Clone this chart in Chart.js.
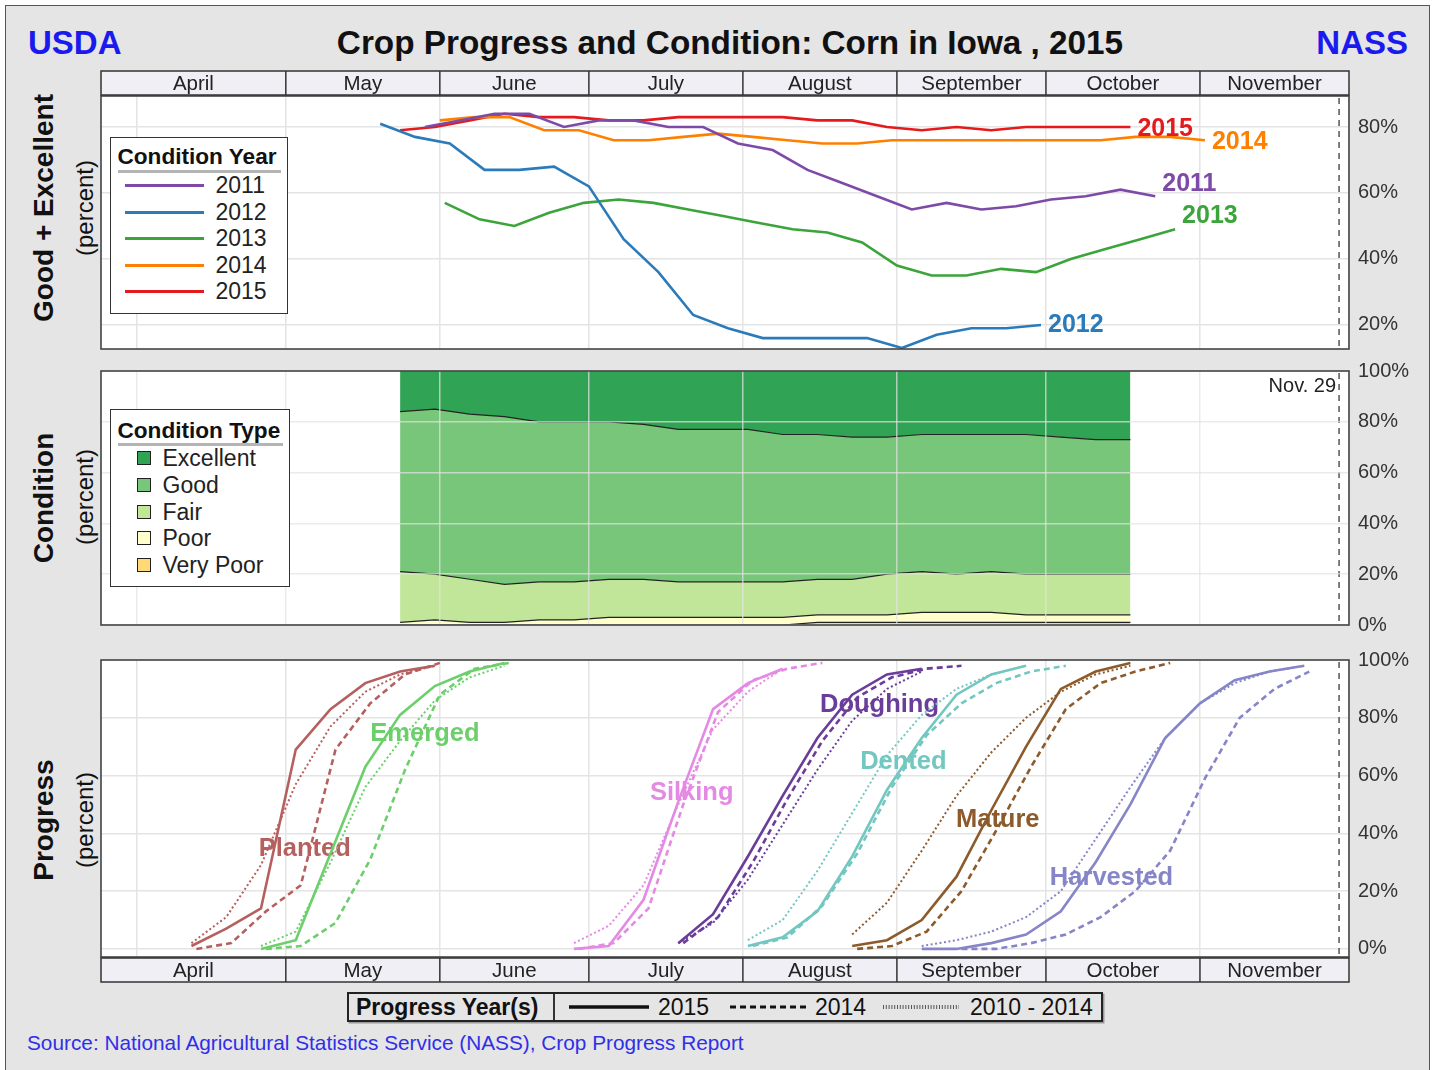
<!DOCTYPE html>
<html lang="en">
<head>
<meta charset="utf-8">
<title>Crop Progress and Condition: Corn in Iowa, 2015</title>
<script src="https://cdn.jsdelivr.net/npm/chart.js@4.4.1/dist/chart.umd.min.js"></script>
<style>
  body { margin: 0; background: #fff; font-family: "Liberation Sans", Arial, Helvetica, sans-serif; color: #111; }
  #bingkai { position: absolute; left: 5px; top: 5px; width: 1423px; height: 1070px; background: #e5e5e5; border: 1.5px solid #555; border-bottom: none; }
  .teks { position: absolute; white-space: nowrap; line-height: 1; }
  .putar { position: absolute; white-space: nowrap; line-height: 1; transform: translate(-50%, -50%) rotate(-90deg); }
  canvas { position: absolute; left: 0; }
  .legenda { position: absolute; background: #fff; border: 1.5px solid #333; z-index: 2; }
  .judul-leg { font-weight: bold; font-size: 22.6px; }
  .isi-leg { font-size: 23px; color: #222; }
  .garis-bawah { position: absolute; height: 3px; background: #b5b5b5; }
  .garis-leg { position: absolute; left: 14px; width: 79px; height: 3px; }
  .kotak-leg { position: absolute; left: 26px; width: 12px; height: 12px; border: 1.5px solid #222; }
</style>
</head>
<body>
<div id="bingkai"></div>

<div class="teks" style="left:28px;top:25.5px;font-size:33px;font-weight:bold;color:#1a1aee;">USDA</div>
<div class="teks" style="left:730px;top:25.5px;font-size:33.3px;font-weight:bold;transform:translateX(-50%);">Crop Progress and Condition: Corn in Iowa , 2015</div>
<div class="teks" style="left:1408px;top:25.5px;font-size:33px;font-weight:bold;color:#1a1aee;transform:translateX(-100%);">NASS</div>

<div class="putar" style="left:44px;top:208px;font-size:28px;font-weight:bold;">Good + Excellent</div>
<div class="putar" style="left:85px;top:208px;font-size:24px;">(percent)</div>
<div class="putar" style="left:44px;top:498px;font-size:28px;font-weight:bold;">Condition</div>
<div class="putar" style="left:85px;top:497px;font-size:24px;">(percent)</div>
<div class="putar" style="left:44px;top:820px;font-size:28px;font-weight:bold;">Progress</div>
<div class="putar" style="left:85px;top:820px;font-size:24px;">(percent)</div>

<canvas id="chartTahun" width="1435" height="313" style="top:60px"></canvas>
<canvas id="chartTipe" width="1435" height="302" style="top:347px"></canvas>
<canvas id="chartProgres" width="1435" height="356" style="top:636px"></canvas>

<div class="legenda" style="left:110px;top:137px;width:176px;height:175px;">
  <div class="teks judul-leg" style="left:6.5px;top:8px;">Condition Year</div>
  <div class="garis-bawah" style="left:6.5px;top:32px;width:163px;"></div>
  <div id="legTahun"></div>
</div>

<div class="legenda" style="left:110px;top:409px;width:178px;height:176px;">
  <div class="teks judul-leg" style="left:6.5px;top:10px;">Condition Type</div>
  <div class="garis-bawah" style="left:6.5px;top:33px;width:165px;"></div>
  <div id="legTipe"></div>
</div>

<div style="position:absolute;left:347px;top:992px;width:752px;height:26px;border:2px solid #222;box-shadow:1.5px 1.5px 0 #999;z-index:2;">
  <div class="teks" style="left:7px;top:2px;font-size:23px;font-weight:bold;">Progress Year(s)</div>
  <div style="position:absolute;left:204px;top:0;width:1.5px;height:26px;background:#333;"></div>
  <svg style="position:absolute;left:220px;top:7px" width="80" height="12"><line x1="0" y1="6" x2="80" y2="6" stroke="#111" stroke-width="3.5"/></svg>
  <div class="teks" style="left:309px;top:2px;font-size:23px;">2015</div>
  <svg style="position:absolute;left:381px;top:7px" width="76" height="12"><line x1="0" y1="6" x2="76" y2="6" stroke="#111" stroke-width="3" stroke-dasharray="6 4"/></svg>
  <div class="teks" style="left:466px;top:2px;font-size:23px;">2014</div>
  <svg style="position:absolute;left:534px;top:7px" width="76" height="12"><line x1="0" y1="6" x2="76" y2="6" stroke="#555" stroke-width="4" stroke-dasharray="1 1.8"/></svg>
  <div class="teks" style="left:621px;top:2px;font-size:23px;">2010 - 2014</div>
</div>

<div class="teks" style="left:27px;top:1033px;font-size:20.8px;color:#2f2fe8;">Source: National Agricultural Statistics Service (NASS), Crop Progress Report</div>

<script>
const FONT = "'Liberation Sans', Arial, Helvetica, sans-serif";
Chart.defaults.font.family = FONT;
Chart.defaults.color = "#333";

// Sumbu waktu (hari ke-n dalam tahun)
const sumbuMin = 83.8;
const sumbuMax = 335;
const namaBulan = ["April", "May", "June", "July", "August", "September", "October", "November"];
const awalBulan = ["04-01", "05-01", "06-01", "07-01", "08-01", "09-01", "10-01", "11-01", "12-01"];
const tanggalLaporan = "11-29";
const tickKondisi = [20, 40, 60, 80];
const tickPersen = [0, 20, 40, 60, 80, 100];

// Kondisi Good + Excellent per tahun (mingguan)
const tahunKondisi = ["2011", "2012", "2013", "2014", "2015"];
const warnaTahun = ["#7e4aa8", "#2b7bba", "#3ba43a", "#ff8000", "#e41a1c"];
const mulaiKondisi = ["05-29", "05-20", "06-02", "06-01", "05-24"];
const kondisi2011 = [80, 82, 84, 84, 80, 82, 82, 80, 80, 75, 73, 67, 63, 59, 55, 57, 55, 56, 58, 59, 61, 59];
const kondisi2012 = [81, 77, 75, 67, 67, 68, 62, 46, 36, 23, 19, 16, 16, 16, 16, 13, 17, 19, 19, 20];
const kondisi2013 = [57, 52, 50, 54, 57, 58, 57, 55, 53, 51, 49, 48, 45, 38, 35, 35, 37, 36, 40, 43, 46, 49];
const kondisi2014 = [82, 83, 83, 79, 79, 76, 76, 77, 78, 77, 76, 75, 75, 76, 76, 76, 76, 76, 76, 76, 77, 77, 76];
const kondisi2015 = [79, 80, 82, 84, 83, 83, 82, 82, 83, 83, 83, 83, 82, 82, 80, 79, 80, 79, 80, 80, 80, 80];

// Tipe kondisi 2015
const mulaiTipe = "05-24";
const tipeKondisi = ["Excellent", "Good", "Fair", "Poor", "Very Poor"];
const warnaTipe = ["#31a354", "#78c679", "#c2e699", "#ffffcc", "#fed976"];
const sangatBaik = [16, 15, 17, 18, 20, 20, 20, 21, 23, 23, 23, 25, 25, 26, 26, 25, 25, 25, 25, 26, 27, 27];
const baik = [63, 65, 65, 66, 63, 63, 62, 61, 60, 60, 60, 58, 57, 56, 54, 54, 55, 54, 55, 54, 53, 53];
const sedang = [20, 18, 17, 15, 15, 15, 15, 15, 14, 14, 14, 14, 14, 14, 16, 16, 15, 16, 16, 16, 16, 16];
const buruk = [1, 2, 1, 1, 2, 2, 3, 3, 3, 3, 3, 3, 3, 3, 3, 4, 4, 4, 3, 3, 3, 3];
const sangatBuruk = [0, 0, 0, 0, 0, 0, 0, 0, 0, 0, 0, 0, 1, 1, 1, 1, 1, 1, 1, 1, 1, 1];

// Progres tahapan
const tahapNama = ["Planted", "Emerged", "Silking", "Doughing", "Dented", "Mature", "Harvested"];
const warnaTahap = ["#b5605e", "#6ccf6c", "#e48ae4", "#6a3d9a", "#72c7c0", "#8c5a2b", "#8585c8"];
const mulai2015 = ["04-12", "04-26", "06-28", "07-19", "08-02", "08-23", "09-06"];
const mulai2014 = ["04-13", "04-27", "06-29", "07-20", "08-03", "08-24", "09-14"];
const mulaiRata = ["04-12", "04-26", "06-28", "07-19", "08-02", "08-23", "09-06"];

const tanam2015 = [1, 7, 14, 69, 83, 92, 96, 98];
const tanam2014 = [0, 2, 13, 22, 69, 85, 95, 99];
const tanamRata = [2, 11, 29, 57, 77, 89, 95, 98];
const muncul2015 = [0, 3, 33, 63, 81, 91, 96, 99];
const muncul2014 = [0, 1, 9, 31, 62, 88, 97, 99];
const munculRata = [1, 6, 30, 56, 72, 86, 94, 98];
const silking2015 = [0, 1, 17, 51, 83, 92, 97];
const silking2014 = [0, 2, 14, 50, 82, 93, 97, 99];
const silkingRata = [2, 8, 22, 50, 76, 89, 97];
const dough2015 = [2, 12, 32, 53, 73, 88, 95, 97];
const dough2014 = [2, 11, 30, 52, 72, 87, 94, 97, 98];
const doughRata = [2, 9, 24, 43, 62, 79, 90, 96];
const dent2015 = [1, 4, 13, 32, 55, 73, 88, 95, 98];
const dent2014 = [1, 4, 15, 33, 56, 74, 85, 92, 96, 98];
const dentRata = [3, 10, 27, 47, 67, 81, 90, 95, 98];
const matang2015 = [1, 3, 10, 25, 48, 70, 90, 96, 99];
const matang2014 = [0, 1, 6, 20, 41, 63, 83, 92, 96, 99];
const matangRata = [5, 16, 34, 53, 68, 80, 89, 95, 98];
const panen2015 = [0, 0, 2, 5, 13, 30, 50, 73, 85, 93, 96, 98];
const panen2014 = [0, 0, 2, 5, 11, 20, 34, 59, 80, 90, 96];
const panenRata = [1, 3, 6, 11, 20, 38, 56, 73, 85, 92, 96, 98];

// Posisi label (tampilan)
const geserLabelTahun = [-12, 0, -13, 2, 2];
const posisiLabelTahap = [[124.8, 34.5], [149, 74.5], [202.7, 54], [240.5, 84.5], [245.3, 64.8], [264.3, 44.5], [287.2, 24.5]];

function hariKe(tgl) {
  const [b, h] = tgl.split("-").map(Number);
  return (Date.UTC(2015, b - 1, h) - Date.UTC(2015, 0, 0)) / 864e5;
}
function mingguan(mulai, nilai) {
  const awal = hariKe(mulai);
  return nilai.map((v, i) => ({ x: awal + 7 * i, y: v }));
}

// Legenda HTML
const legTahun = document.getElementById("legTahun");
tahunKondisi.forEach((th, i) => {
  const y = 47.5 + i * 26.5;
  legTahun.insertAdjacentHTML("beforeend",
    `<div class="garis-leg" style="top:${y - 1.5}px;background:${warnaTahun[i]}"></div>` +
    `<div class="teks isi-leg" style="left:104.5px;top:${y - 11.5}px">${th}</div>`);
});
const legTipe = document.getElementById("legTipe");
tipeKondisi.forEach((t, i) => {
  const y = 48.5 + i * 26.75;
  legTipe.insertAdjacentHTML("beforeend",
    `<div class="kotak-leg" style="top:${y - 7.5}px;background:${warnaTipe[i]}"></div>` +
    `<div class="teks isi-leg" style="left:51.5px;top:${y - 11.5}px">${t}</div>`);
});

// Plugin: latar putih, bingkai, garis putus Nov 29, baris bulan
const pluginPanel = {
  id: "panel",
  beforeDraw(chart) {
    const { ctx, chartArea: a } = chart;
    ctx.save();
    ctx.fillStyle = "#fff";
    ctx.fillRect(a.left, a.top, a.width, a.height);
    ctx.restore();
  },
  afterDatasetsDraw(chart) {
    const { ctx, chartArea: a, scales } = chart;
    const xp = scales.x.getPixelForValue(hariKe(tanggalLaporan));
    ctx.save();
    ctx.strokeStyle = "#555";
    ctx.lineWidth = 1.5;
    ctx.setLineDash([6, 5]);
    ctx.beginPath();
    ctx.moveTo(xp, a.top + 2);
    ctx.lineTo(xp, a.bottom);
    ctx.stroke();
    ctx.restore();
  },
  afterDraw(chart, args, opts) {
    const { ctx, chartArea: a, scales } = chart;
    ctx.save();
    ctx.strokeStyle = "#444";
    ctx.lineWidth = 1.6;
    ctx.strokeRect(a.left, a.top, a.width, a.height);
    if (opts.bulan) {
      const tinggi = 24;
      const y0 = opts.bulan === "atas" ? a.top - 25 : a.bottom + 1;
      const tepi = [sumbuMin, ...awalBulan.slice(1).map(hariKe)];
      ctx.fillStyle = "#efeff5";
      ctx.fillRect(a.left, y0, a.width, tinggi);
      ctx.strokeStyle = "#333";
      ctx.lineWidth = 1.5;
      ctx.strokeRect(a.left, y0, a.width, tinggi);
      ctx.font = "20.5px " + FONT;
      ctx.fillStyle = "#222";
      ctx.textAlign = "center";
      ctx.textBaseline = "middle";
      namaBulan.forEach((nama, i) => {
        const p = scales.x.getPixelForValue(tepi[i]);
        const q = scales.x.getPixelForValue(tepi[i + 1]);
        if (i > 0) {
          ctx.beginPath();
          ctx.moveTo(p, y0);
          ctx.lineTo(p, y0 + tinggi);
          ctx.stroke();
        }
        ctx.fillText(nama, (p + q) / 2, y0 + tinggi / 2 + 1);
      });
    }
    if (opts.catatan) {
      const xp = scales.x.getPixelForValue(hariKe(tanggalLaporan));
      ctx.font = "20px " + FONT;
      ctx.fillStyle = "#222";
      ctx.textAlign = "right";
      ctx.textBaseline = "middle";
      ctx.fillText(opts.catatan, xp - 3, a.top + 15);
    }
    ctx.restore();
  },
};

// Label tahun di ujung garis
const pluginLabelTahun = {
  id: "labelTahun",
  afterDatasetsDraw(chart) {
    const { ctx } = chart;
    ctx.save();
    ctx.font = "bold 25px " + FONT;
    ctx.textAlign = "left";
    ctx.textBaseline = "middle";
    chart.data.datasets.forEach((ds, i) => {
      const titik = chart.getDatasetMeta(i).data;
      const akhir = titik[titik.length - 1];
      ctx.fillStyle = ds.borderColor;
      ctx.fillText(ds.label, akhir.x + 7, akhir.y + geserLabelTahun[i]);
    });
    ctx.restore();
  },
};

// Label nama tahapan (di bawah garis)
const pluginLabelTahap = {
  id: "labelTahap",
  beforeDatasetsDraw(chart) {
    const { ctx, scales } = chart;
    ctx.save();
    ctx.font = "bold 25.5px " + FONT;
    ctx.textAlign = "center";
    ctx.textBaseline = "middle";
    tahapNama.forEach((nama, i) => {
      const [px, py] = posisiLabelTahap[i];
      ctx.fillStyle = warnaTahap[i];
      ctx.fillText(nama, scales.x.getPixelForValue(px), scales.y.getPixelForValue(py));
    });
    ctx.restore();
  },
};

function opsiPanel(yMin, yMax, daftarTick, padAtas, padBawah, gridAtas) {
  const warnaGrid = gridAtas ? "rgba(226,226,226,0.72)" : "#e4e4e4";
  const grid = { color: warnaGrid, lineWidth: 1.5, drawTicks: false, z: gridAtas ? 1 : -1 };
  return {
    responsive: false,
    animation: false,
    events: [],
    layout: { padding: { left: 101, right: 0, top: padAtas, bottom: padBawah } },
    plugins: { legend: { display: false }, tooltip: { enabled: false } },
    elements: { point: { radius: 0 }, line: { tension: 0 } },
    scales: {
      x: {
        type: "linear",
        min: sumbuMin,
        max: sumbuMax,
        afterBuildTicks: (s) => { s.ticks = awalBulan.map((t) => ({ value: hariKe(t) })); },
        afterFit: (s) => { s.height = 0; },
        ticks: { display: false },
        grid: grid,
        border: { display: false },
      },
      y: {
        position: "right",
        min: yMin,
        max: yMax,
        afterBuildTicks: (s) => { s.ticks = daftarTick.map((v) => ({ value: v })); },
        afterFit: (s) => { s.width = 86; },
        ticks: { padding: 9, color: "#333", font: { size: 20 }, callback: (v) => v + "%" },
        grid: grid,
        border: { display: false },
      },
    },
  };
}

// Panel 1: Good + Excellent
const seriKondisi = [kondisi2011, kondisi2012, kondisi2013, kondisi2014, kondisi2015];
const opsi1 = opsiPanel(12.7, 89.4, tickKondisi, 36, 24, false);
opsi1.plugins.panel = { bulan: "atas" };
new Chart(document.getElementById("chartTahun"), {
  type: "line",
  data: {
    datasets: tahunKondisi.map((th, i) => ({
      label: th,
      data: mingguan(mulaiKondisi[i], seriKondisi[i]),
      borderColor: warnaTahun[i],
      borderWidth: 2.6,
      fill: false,
    })),
  },
  options: opsi1,
  plugins: [pluginPanel, pluginLabelTahun],
});

// Panel 2: tipe kondisi (area bertumpuk)
const seriTipe = [sangatBuruk, buruk, sedang, baik, sangatBaik];
const warnaTumpuk = [...warnaTipe].reverse();
const opsi2 = opsiPanel(0, 100, tickPersen, 24, 24, true);
opsi2.scales.y.stacked = true;
opsi2.plugins.panel = { catatan: "Nov. 29" };
new Chart(document.getElementById("chartTipe"), {
  type: "line",
  data: {
    datasets: seriTipe.map((arr, i) => ({
      data: mingguan(mulaiTipe, arr),
      backgroundColor: warnaTumpuk[i],
      borderColor: "#222",
      borderWidth: 1.2,
      fill: i === 0 ? "origin" : "-1",
    })),
  },
  options: opsi2,
  plugins: [pluginPanel],
});

// Panel 3: progres
const seri2015 = [tanam2015, muncul2015, silking2015, dough2015, dent2015, matang2015, panen2015];
const seri2014 = [tanam2014, muncul2014, silking2014, dough2014, dent2014, matang2014, panen2014];
const seriRata = [tanamRata, munculRata, silkingRata, doughRata, dentRata, matangRata, panenRata];
const dataProgres = [];
tahapNama.forEach((nama, i) => {
  dataProgres.push({ data: mingguan(mulaiRata[i], seriRata[i]), borderColor: warnaTahap[i], borderWidth: 2, borderDash: [2, 2.5], fill: false });
  dataProgres.push({ data: mingguan(mulai2014[i], seri2014[i]), borderColor: warnaTahap[i], borderWidth: 2.6, borderDash: [6, 4], fill: false });
  dataProgres.push({ data: mingguan(mulai2015[i], seri2015[i]), borderColor: warnaTahap[i], borderWidth: 2.6, fill: false });
});
const opsi3 = opsiPanel(-2.8, 100, tickPersen, 24, 35, false);
opsi3.plugins.panel = { bulan: "bawah" };
new Chart(document.getElementById("chartProgres"), {
  type: "line",
  data: { datasets: dataProgres },
  options: opsi3,
  plugins: [pluginPanel, pluginLabelTahap],
});
</script>
</body>
</html>
